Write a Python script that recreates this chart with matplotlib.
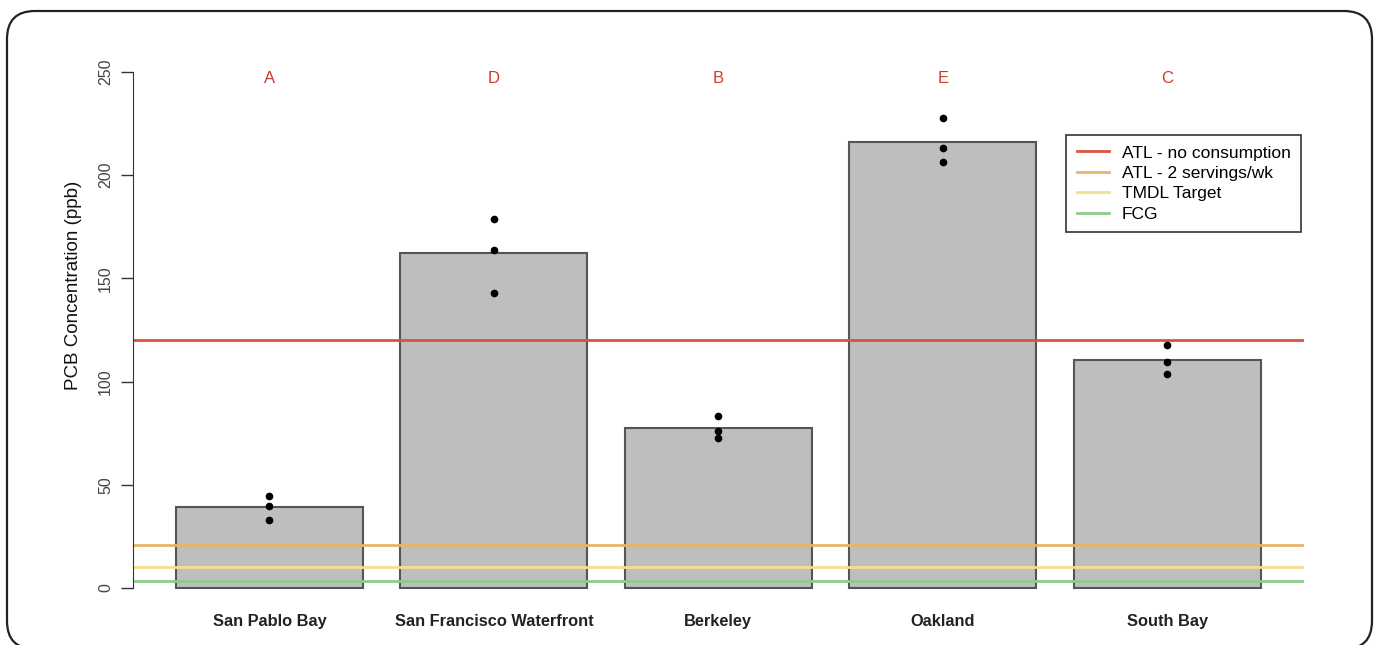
import numpy as np
import matplotlib.pyplot as plt
from matplotlib.patches import FancyBboxPatch

# sites and mean PCB concentration (ppb)
sites = ['San Pablo Bay', 'San Francisco Waterfront', 'Berkeley', 'Oakland', 'South Bay']
means = [39.2, 162.2, 77.3, 216.3, 110.4]
# individual composite samples per site
samples = [
    [44.7, 39.9, 32.9],
    [179.0, 164.0, 142.7],
    [83.5, 76.2, 72.5],
    [227.8, 213.4, 206.5],
    [117.5, 109.3, 103.6],
]
groups = ['A', 'D', 'B', 'E', 'C']

# thresholds
thr_labels = ['ATL - no consumption', 'ATL - 2 servings/wk', 'TMDL Target', 'FCG']
thr_values = [120, 21, 10, 3.6]
thr_colors = ['#d9533f', '#e8b36a', '#f2e08c', '#8fcc8a']

plt.rcParams['font.family'] = ['Liberation Sans', 'DejaVu Sans']

W, H = 1380, 645
fig = plt.figure(figsize=(W / 100, H / 100), dpi=100)

# rounded frame, drawn in pixel coordinates (y measured from bottom)
bg = fig.add_axes([0, 0, 1, 1])
bg.set_xlim(0, W)
bg.set_ylim(0, H)
bg.axis('off')
bg.add_patch(FancyBboxPatch((7, H - 649), 1372 - 7, 649 - 11,
                            boxstyle='round,pad=0,rounding_size=28',
                            fill=False, edgecolor='#222222', linewidth=1.6,
                            clip_on=False))

left, right = 132.6 / W, 1304 / W
bottom, top = (H - 608.6) / H, (H - 51.4) / H
ax = fig.add_axes([left, bottom, right - left, top - bottom])

x = 0.7 + 1.2 * np.arange(len(sites))
ax.bar(x, means, width=1.0, color='#bebebe', edgecolor='#555555', linewidth=1.5, zorder=1)

lines = []
for lab, v, c in zip(thr_labels, thr_values, thr_colors):
    ln = ax.axhline(v, color=c, linewidth=2, zorder=2, label=lab)
    lines.append(ln)

for xi, s in zip(x, samples):
    ax.plot([xi] * len(s), s, 'o', color='black', markersize=4.5, zorder=3)

for xi, g in zip(x, groups):
    ax.text(xi, 247, g, color='#d0392b', ha='center', va='center', fontsize=12)

ax.set_xlim(-0.032, 6.232)
ax.set_ylim(-10, 260)
for sp in ['top', 'right', 'bottom']:
    ax.spines[sp].set_visible(False)
ax.spines['left'].set_bounds(0, 250)
ax.spines['left'].set_color('#333333')
ax.set_yticks([0, 50, 100, 150, 200, 250])
ax.tick_params(axis='y', length=9, width=1, color='#333333', labelsize=11.5,
               labelcolor='#444444', labelrotation=90, pad=5)
for t in ax.get_yticklabels():
    t.set_va('center')
ax.set_xticks(x)
ax.set_xticklabels(sites, fontsize=11.8, fontweight='bold', color='#222222')
ax.tick_params(axis='x', length=0, pad=4)
fig.text(73 / W, 1 - 285 / H, 'PCB Concentration (ppb)', rotation=90,
         ha='center', va='center', fontsize=13.5, color='#111111')

leg = ax.legend(handles=lines, loc='upper right',
                bbox_to_anchor=(1301 / W, 1 - 135 / H), bbox_transform=fig.transFigure,
                borderaxespad=0, fancybox=False, edgecolor='#333333', framealpha=1,
                fontsize=12.5, handlelength=1.85, labelspacing=0.3, borderpad=0.6,
                handletextpad=0.75)
leg.get_frame().set_linewidth(1.2)

fig.savefig('out.png', dpi=100)
